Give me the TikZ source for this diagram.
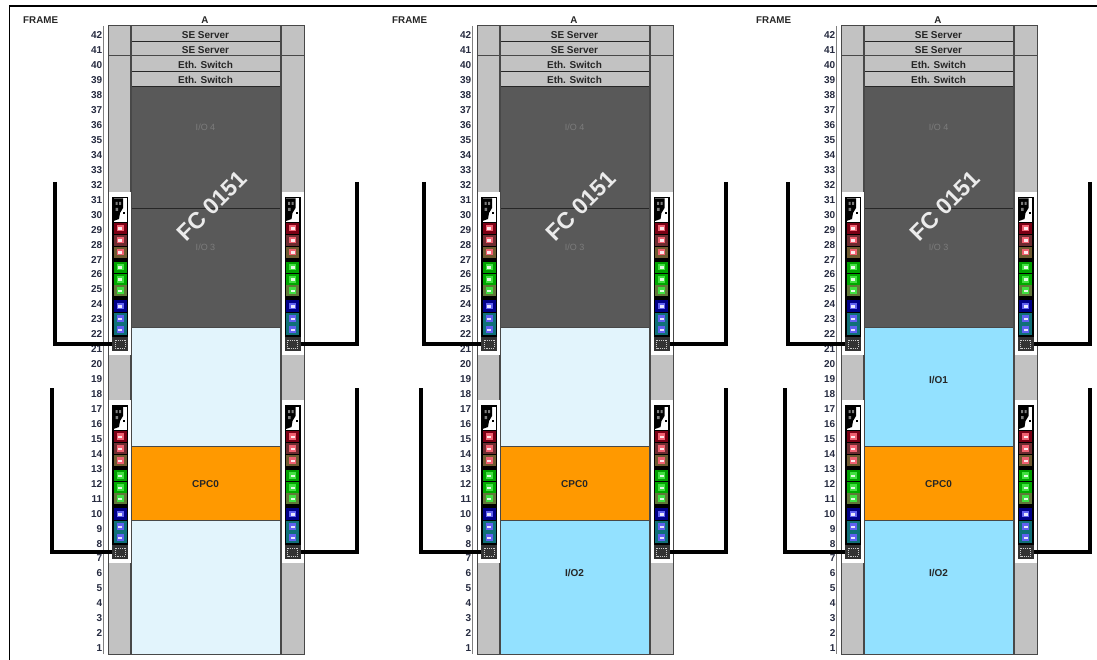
\documentclass[tikz,border=0pt]{standalone}
\usepackage{fontspec}
\setmainfont{Liberation Sans}
\definecolor{rackgrey}{HTML}{C2C2C2}
\definecolor{frameline}{HTML}{484848}
\definecolor{iodark}{HTML}{595959}
\definecolor{iotext}{HTML}{7C7C7C}
\definecolor{cpcorange}{HTML}{FF9900}
\definecolor{iopale}{HTML}{E2F4FC}
\definecolor{iofull}{HTML}{93E1FF}
\definecolor{numcolor}{HTML}{262B40}
\definecolor{reda}{HTML}{7A0014}
\definecolor{redb}{HTML}{6E2C30}
\definecolor{redc}{HTML}{6E5A30}
\definecolor{redport}{HTML}{F06070}
\definecolor{greena}{HTML}{00A000}
\definecolor{greenb}{HTML}{00A800}
\definecolor{greenc}{HTML}{607838}
\definecolor{greenport}{HTML}{40E040}
\definecolor{bluea}{HTML}{000088}
\definecolor{blueb}{HTML}{107078}
\definecolor{blueport}{HTML}{6060F0}
% one port of a switch: x, top y, height, back colour, socket colour
\newcommand{\portmod}[5]{
	\fill[#4] (#1+1.5,#2) rectangle (#1+14.5,#2+#3);
	\fill[#5] (#1+4.5,#2+#3/2-3.5) rectangle (#1+11.5,#2+#3/2+3);
	\fill[white!85!#5] (#1+6,#2+#3/2-1) rectangle (#1+10,#2+#3/2+1.5);
}
% a whole switch panel: name, x, top y
\newcommand{\switchpanel}[3]{
	\fill[white] (#2-3,#3-5) rectangle (#2+19,#3+158);
	\fill[black] (#2,#3) rectangle (#2+16,#3+154);
	\fill[white] (#2+1.5,#3+1.5) rectangle (#2+14.5,#3+25);
	\fill[black] (#2+1.5,#3+1.5) -- (#2+11,#3+1.5) -- (#2+11,#3+11) -- (#2+8,#3+16) -- (#2+7,#3+22) -- (#2+1.5,#3+24) -- cycle;
	\fill[iotext] (#2+3.5,#3+5) rectangle (#2+5.5,#3+8) (#2+7,#3+5) rectangle (#2+9,#3+8) (#2+3.5,#3+11) rectangle (#2+6,#3+14);
	\fill[black] (#2+11,#3+15) rectangle (#2+13,#3+17);
	\portmod{#2}{#3+26}{11}{reda}{redport}
	\portmod{#2}{#3+38}{11}{redb}{redport}
	\portmod{#2}{#3+50}{11}{redc}{redport}
	\portmod{#2}{#3+65}{11}{greena}{greenport}
	\portmod{#2}{#3+77}{11}{greenb}{greenport}
	\portmod{#2}{#3+88}{11}{greenc}{greenport}
	\portmod{#2}{#3+103}{12}{bluea}{blueport}
	\portmod{#2}{#3+116}{11}{blueb}{blueport}
	\portmod{#2}{#3+127}{11}{blueb}{blueport}
	\node[uplink,name=#1] at (#2+8,#3+147) {};
	\draw[white!80!black,densely dotted,line width=0.9pt] (#2+3,#3+143) rectangle (#2+13,#3+151);
}
\begin{document}
\begin{tikzpicture}
	[x=1pt,y=-1pt,
	framename/.style={font=\bfseries\fontsize{9.8}{11}\selectfont,text=black!85,inner sep=0pt,yshift=-0.5pt},
	unitname/.style={font=\bfseries\fontsize{10}{12}\selectfont,text=black!85,inner sep=0pt,yshift=-0.8pt},
	ionumber/.style={font=\bfseries\fontsize{10}{12}\selectfont,text=numcolor,inner sep=0pt,anchor=east,yshift=-0.8pt},
	uplink/.style={rectangle,fill=black!80,minimum width=16pt,minimum height=14pt,inner sep=0pt},
	cable/.style={line width=3.6pt,black,line join=miter},
	stamp/.style={font=\bfseries\fontsize{23}{26}\selectfont,text=white!92!black,rotate=45,inner sep=0pt}]
	\useasboundingbox (0,0) rectangle (1097,660);
	\fill[white] (0,0) rectangle (1097,660);
	\draw[black,line width=1.4pt] (1097,6) -- (9.5,6) -- (9.5,660);

	\foreach \r/\xo/\upfill/\lowfill/\lx/\rx in {1/0/iopale/iopale/52/357,2/369/iopale/iofull/421/726,3/733/iofull/iofull/785/1090}{
		\begin{scope}[xshift=\xo pt]
			% frame and units
			\fill[rackgrey] (108,26) rectangle (304,654);
			\fill[iodark] (131,86) rectangle (281,327);
			\fill[\upfill] (131,327) rectangle (281,446);
			\fill[cpcorange] (131,446) rectangle (281,520);
			\fill[\lowfill] (131,520) rectangle (281,654);
			\draw[gray,line width=1pt] (103.5,26) -- (103.5,654);
			\foreach \y in {41,71,86,208}{
				\draw[black!85,line width=0.9pt] (131,\y) -- (281,\y);
			}
			\draw[frameline,line width=1pt] (108,56) -- (304,56);
			\draw[frameline,line width=0.8pt] (131,446) -- (281,446) (131,520) -- (281,520) (131,327) -- (281,327);
			\draw[frameline,line width=1pt] (108,654) -- (108,26) -- (304,26) -- (304,654) -- cycle;
			\draw[frameline,line width=2.4pt] (131,26) -- (131,654) (281,26) -- (281,654);

			% switches
			\switchpanel{swa\r}{112}{197}
			\switchpanel{swb\r}{284.5}{197}
			\switchpanel{swc\r}{112}{405}
			\switchpanel{swd\r}{284.5}{405}

			% labels
			\node[framename,anchor=west,name=frame\r] at (23,20) {FRAME};
			\node[framename,name=col\r] at (205,20) {A};
			\node[unitname,name=se\r a] at (205.5,34.5) {SE Server};
			\node[unitname,name=se\r b] at (205.5,49.5) {SE Server};
			\node[unitname,name=eth\r a] at (205.5,64) {Eth. Switch};
			\node[unitname,name=eth\r b] at (205.5,79.5) {Eth. Switch};
			\node[unitname,text=iotext,font=\fontsize{9}{11}\selectfont,name=iofour\r] at (205.5,126) {I/O 4};
			\node[unitname,text=iotext,font=\fontsize{9}{11}\selectfont,name=iothree\r] at (205.5,246.5) {I/O 3};
			\node[stamp,name=fc\r] at (212,206) {FC 0151};
			\node[unitname,name=cpc\r] at (205.5,483.5) {CPC0};
			\foreach \n [evaluate=\n as \ypos using 26+(42-\n)*14.95+8.5] in {1,...,42}{
				\node[ionumber,name=num\r-\n] at (102.5,\ypos) {\n};
			}
		\end{scope}
		% cables to the switches
		\coordinate (topa\r) at (\lx+3,182);
		\coordinate (topb\r) at (\rx,182);
		\coordinate (topc\r) at (\lx,388);
		\coordinate (topd\r) at (\rx,388);
		\draw[cable] (topa\r) |- (swa\r);
		\draw[cable] (topb\r) |- (swb\r);
		\draw[cable] (topc\r) |- (swc\r);
		\draw[cable] (topd\r) |- (swd\r);
	}
	\node[unitname,name=iosecond] at (574.5,572.5) {I/O2};
	\node[unitname,name=iofirst] at (938.5,379.5) {I/O1};
	\node[unitname,name=iothird] at (938.5,572.5) {I/O2};
\end{tikzpicture}
\end{document}
